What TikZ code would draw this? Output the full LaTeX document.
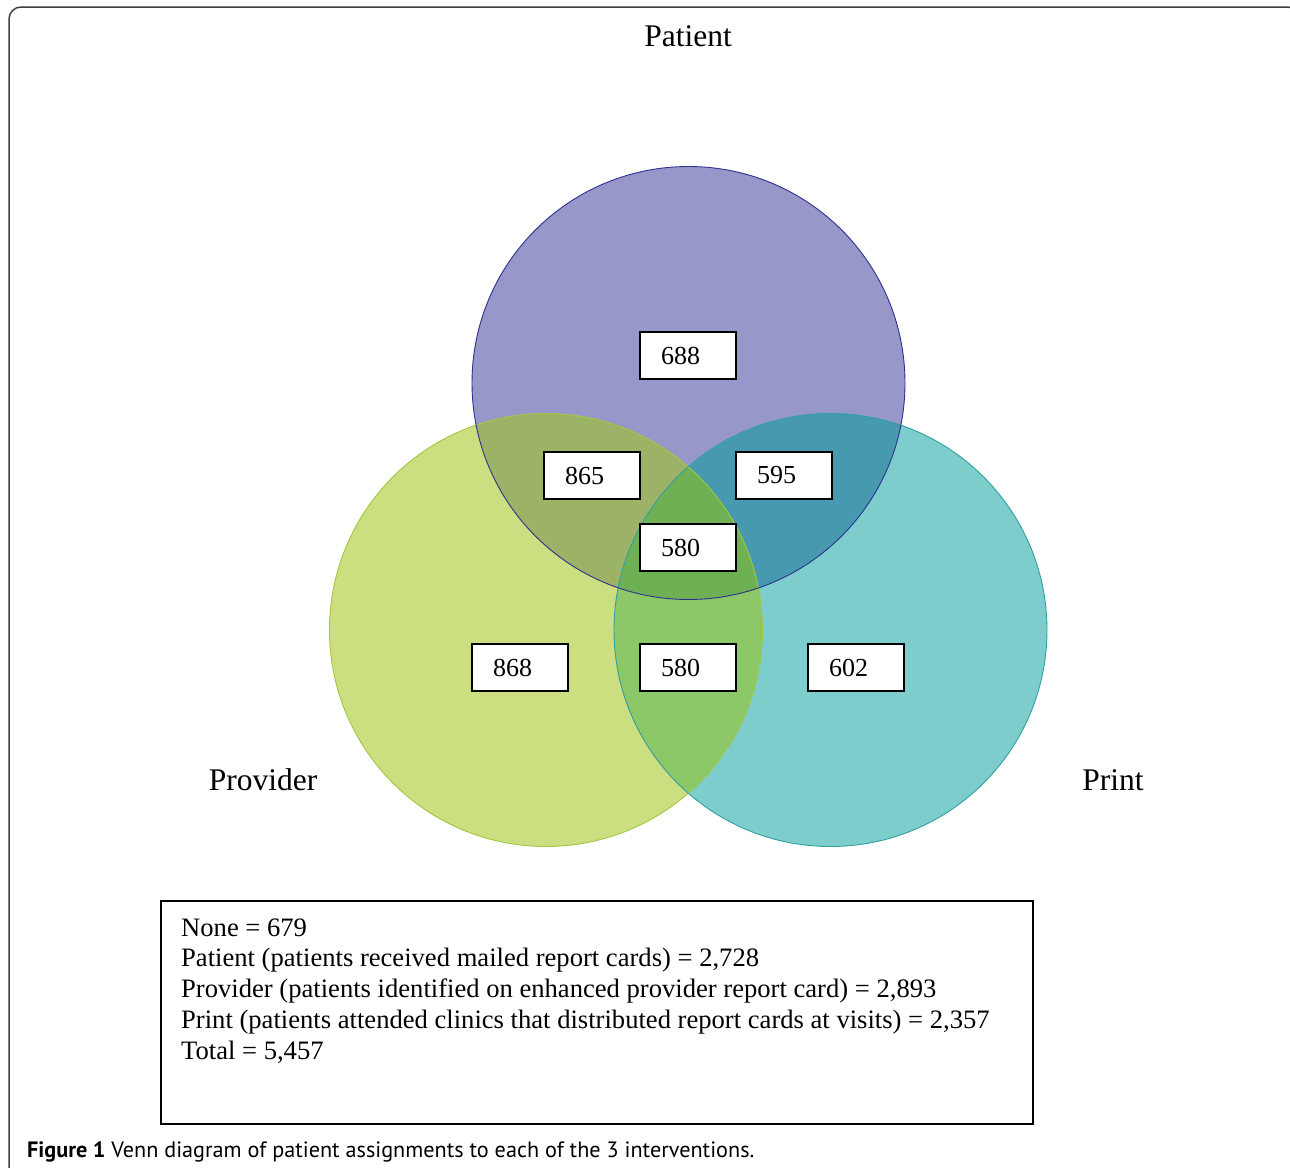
\documentclass[tikz,border=0pt]{standalone}
\usepackage{fontspec}
\setmainfont{Liberation Serif}
\newfontfamily\capfont{PT Sans}
\definecolor{patC}{HTML}{9797CA}
\definecolor{proC}{HTML}{CCDF80}
\definecolor{priC}{HTML}{7ECDCD}
\definecolor{patproC}{HTML}{9CB266}
\definecolor{patpriC}{HTML}{4799B0}
\definecolor{propriC}{HTML}{8CC868}
\definecolor{allC}{HTML}{70B055}
\definecolor{patL}{HTML}{303090}
\definecolor{proL}{HTML}{A0C840}
\definecolor{priL}{HTML}{30A0A0}
\tikzset{
  numbox/.style={draw=black, line width=2pt, fill=white, minimum height=47pt,
    inner xsep=21pt, inner ysep=0pt, text width=54pt, align=left,
    font=\fontsize{26}{30}\selectfont},
  setlabel/.style={font=\fontsize{31.5}{36}\selectfont, inner sep=0pt},
  legline/.style={anchor=base west, inner sep=0pt, font=\fontsize{26.6}{30}\selectfont},
}
\begin{document}
\begin{tikzpicture}[x=1pt,y=-1pt]
\useasboundingbox (0,0) rectangle (1290,1167);
\draw[line width=1.5pt, draw=black!75, rounded corners=12pt] (9,7) rectangle (1300,1180);
\coordinate (cPat) at (688.5,383);
\coordinate (cPro) at (546,630);
\coordinate (cPri) at (830.5,630);
% fills
\fill[patC] (cPat) circle (216.5pt);
\fill[proC] (cPro) circle (216.5pt);
\fill[priC] (cPri) circle (216.5pt);
\begin{scope}
  \clip (cPat) circle (216.5pt);
  \fill[patproC] (cPro) circle (216.5pt);
  \fill[patpriC] (cPri) circle (216.5pt);
\end{scope}
\begin{scope}
  \clip (cPro) circle (216.5pt);
  \fill[propriC] (cPri) circle (216.5pt);
  \clip (cPat) circle (216.5pt);
  \fill[allC] (cPri) circle (216.5pt);
\end{scope}
% borders
\draw[proL, line width=0.9pt] (cPro) circle (216.5pt);
\draw[priL, line width=0.9pt] (cPri) circle (216.5pt);
\draw[patL, line width=0.9pt] (cPat) circle (216.5pt);
% number boxes
\node[numbox] (b688) at (688,355.5) {688};
\node[numbox] (b865) at (592,475.5) {865};
\node[numbox] (b595) at (784,475.5) {595};
\node[numbox] (b580a) at (688,547.5) {580};
\node[numbox] (b868) at (520,667.5) {868};
\node[numbox] (b580b) at (688,667.5) {580};
\node[numbox] (b602) at (856,667.5) {602};
% set labels
\node[setlabel] (lPat) at (688,36) {Patient};
\node[setlabel] (lPro) at (263,780) {Provider};
\node[setlabel] (lPri) at (1113,780) {Print};
% legend
\node[draw=black, line width=1.5pt, minimum width=872pt, minimum height=223pt, anchor=north west, inner sep=0pt] (legend) at (160,900) {};
\node[legline] (leg1) at (181,936) {None = 679};
\node[legline] (leg2) at (181,966.8) {Patient (patients received mailed report cards) = 2,728};
\node[legline] (leg3) at (181,997.6) {Provider (patients identified on enhanced provider report card) = 2,893};
\node[legline] (leg4) at (181,1028.4) {Print (patients attended clinics that distributed report cards at visits) = 2,357};
\node[legline] (leg5) at (181,1059.2) {Total = 5,457};
% caption
\node[anchor=base west, inner sep=0pt, font=\capfont\fontsize{22.2}{25}\selectfont] (cap) at (27,1157) {\textbf{Figure 1} Venn diagram of patient assignments to each of the 3 interventions.};
\end{tikzpicture}
\end{document}
